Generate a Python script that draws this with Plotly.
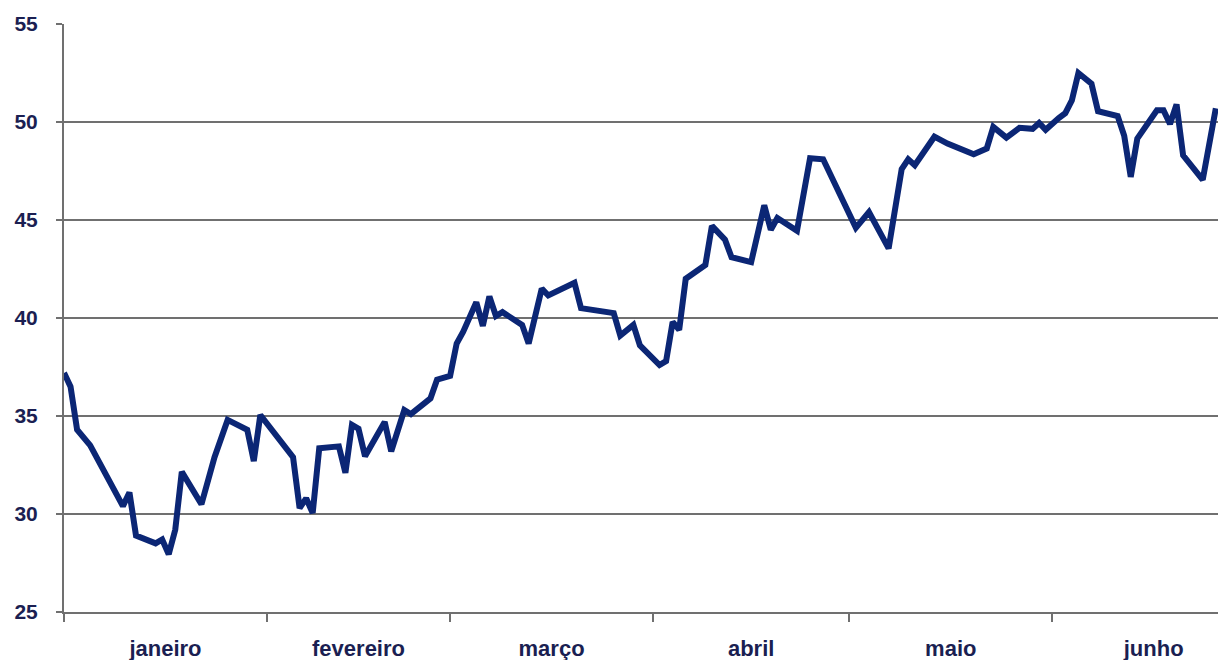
import plotly.graph_objects as go

dates = [
    "2009-01-01", "2009-01-02", "2009-01-03", "2009-01-05", "2009-01-10", "2009-01-11",
    "2009-01-12", "2009-01-15", "2009-01-16", "2009-01-17", "2009-01-18", "2009-01-19",
    "2009-01-22", "2009-01-24", "2009-01-26", "2009-01-29", "2009-01-30", "2009-01-31",
    "2009-02-05", "2009-02-06", "2009-02-07", "2009-02-08", "2009-02-09", "2009-02-12",
    "2009-02-13", "2009-02-14", "2009-02-15", "2009-02-16", "2009-02-19", "2009-02-20",
    "2009-02-22", "2009-02-23", "2009-02-26", "2009-02-27", "2009-03-01", "2009-03-02",
    "2009-03-03", "2009-03-05", "2009-03-06", "2009-03-07", "2009-03-08", "2009-03-09",
    "2009-03-12", "2009-03-13", "2009-03-15", "2009-03-16", "2009-03-20", "2009-03-21",
    "2009-03-26", "2009-03-27", "2009-03-29", "2009-03-30", "2009-04-02", "2009-04-03",
    "2009-04-04", "2009-04-05", "2009-04-06", "2009-04-09", "2009-04-10", "2009-04-12",
    "2009-04-13", "2009-04-16", "2009-04-18", "2009-04-19", "2009-04-20", "2009-04-23",
    "2009-04-25", "2009-04-27", "2009-05-02", "2009-05-04", "2009-05-07", "2009-05-09",
    "2009-05-10", "2009-05-11", "2009-05-14", "2009-05-16", "2009-05-20", "2009-05-22",
    "2009-05-23", "2009-05-25", "2009-05-27", "2009-05-29", "2009-05-30", "2009-05-31",
    "2009-06-02", "2009-06-03", "2009-06-04", "2009-06-05", "2009-06-07", "2009-06-08",
    "2009-06-11", "2009-06-12", "2009-06-13", "2009-06-14", "2009-06-17", "2009-06-18",
    "2009-06-19", "2009-06-20", "2009-06-21", "2009-06-24", "2009-06-26",
]

values = [
    37.2, 36.5, 34.3, 33.5, 30.4, 31.1,
    28.9, 28.5, 28.7, 27.95, 29.2, 32.15,
    30.5, 32.9, 34.8, 34.3, 32.7, 35.05,
    32.9, 30.3, 30.8, 30.05, 33.35, 33.45,
    32.1, 34.55, 34.35, 32.95, 34.7, 33.2,
    35.3, 35.1, 35.9, 36.85, 37.05, 38.7,
    39.3, 40.8, 39.6, 41.1, 40.1, 40.3,
    39.65, 38.7, 41.5, 41.15, 41.8, 40.5,
    40.25, 39.1, 39.65, 38.6, 37.6, 37.8,
    39.8, 39.4, 42.0, 42.7, 44.7, 44.0,
    43.1, 42.85, 45.75, 44.5, 45.1, 44.45,
    48.15, 48.1, 44.6, 45.4, 43.55, 47.6,
    48.1, 47.8, 49.25, 48.9, 48.35, 48.65,
    49.75, 49.2, 49.7, 49.65, 49.95, 49.6,
    50.2, 50.45, 51.1, 52.5, 51.95, 50.55,
    50.3, 49.3, 47.2, 49.15, 50.6, 50.6,
    49.9, 50.9, 48.3, 47.05, 50.7,
]

month_alias = {
    "January": "janeiro", "February": "fevereiro", "March": "março",
    "April": "abril", "May": "maio", "June": "junho",
}

y_ticks = [25, 30, 35, 40, 45, 50, 55]

fig = go.Figure()
fig.add_trace(go.Scatter(
    x=dates, y=values, mode="lines",
    line=dict(color="#0b2675", width=6),
    hoverinfo="skip",
    cliponaxis=True,
))

x_font = dict(family="Liberation Sans, Arial", size=22, color="#1b1f52", weight="bold")
y_font = dict(family="Liberation Sans, Arial", size=21, color="#1b1f52", weight="bold")

fig.update_layout(
    width=1218, height=660,
    margin=dict(l=64, r=0, t=24, b=48, autoexpand=False),
    paper_bgcolor="white", plot_bgcolor="white",
    showlegend=False,
    xaxis=dict(
        type="date",
        range=["2009-01-01", "2009-06-26 08:00"],
        tick0="2009-01-01", dtick="M1",
        ticklabelmode="period", tickformat="%B",
        labelalias=month_alias,
        ticks="outside", ticklen=8, tickwidth=1.5, tickcolor="#707070",
        showgrid=False, zeroline=False,
        showline=True, linecolor="#707070", linewidth=2,
        tickfont=x_font,
        ticklabelstandoff=8,
        automargin=False,
    ),
    yaxis=dict(
        range=[25, 55], tickvals=y_ticks,
        ticks="outside", ticklen=6, tickwidth=1.5, tickcolor="#707070",
        showgrid=True, gridcolor="#707070", gridwidth=1.5,
        zeroline=False,
        showline=True, linecolor="#707070", linewidth=2,
        tickfont=y_font,
        ticklabelstandoff=14,
        automargin=False,
    ),
)

fig.write_html(
    "out.html",
    config={"displayModeBar": False},
    post_script="document.body.style.margin='0';document.body.style.padding='0';document.body.style.overflow='hidden';",
)
